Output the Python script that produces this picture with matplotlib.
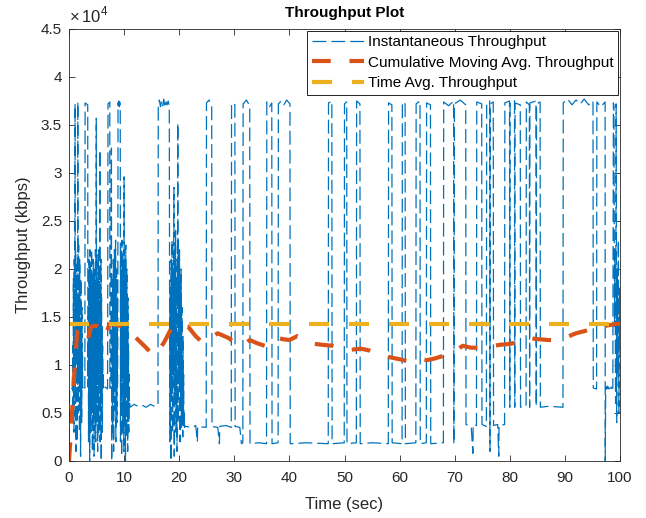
import numpy as np
import matplotlib.pyplot as plt
from matplotlib.ticker import FuncFormatter, MultipleLocator

plt.rcParams['font.family'] = ['Liberation Sans', 'DejaVu Sans']
plt.rcParams['mathtext.fontset'] = 'custom'
plt.rcParams['mathtext.rm'] = 'Liberation Sans'
plt.rcParams['lines.scale_dashes'] = False

# --- data (time in sec, throughput in kbps) ---

# stepped part of the instantaneous throughput: corner points (t, kbps)
inst_steps = [
    (0.0, 0), (0.1, 7400), (0.3, 7700), (0.6, 7500),
    (2.6, 7700), (2.88, 7600), (2.92, 37300), (3.4, 37100), (3.42, 7700),
    (6.3, 7600), (6.6, 7700), (7.0, 7500), (7.08, 37200), (7.4, 37400),
    (7.42, 7600), (7.6, 7600), (7.7, 32600), (7.75, 0),
    (11.1, 5600), (11.8, 5900), (12.5, 5700), (13.3, 5800), (14.0, 5600),
    (14.8, 5900), (15.5, 5700), (16.15, 5800), (16.2, 37000), (16.4, 37600),
    (16.6, 36900), (16.8, 37500), (17.0, 37000), (17.2, 37700), (17.4, 36800),
    (17.6, 37400), (17.8, 37100), (18.0, 37500), (18.2, 36900),
    (21.1, 3600), (22.5, 3500), (23.0, 3700), (23.3, 2000), (23.35, 3600),
    (24.9, 3500), (24.95, 37300), (25.4, 37600), (25.9, 37000), (25.95, 3600),
    (27.0, 3500), (27.3, 1800), (27.35, 3600), (28.5, 3700), (29.45, 3500),
    (29.5, 37300), (30.1, 37100), (30.15, 3600), (31.0, 3500), (31.3, 1800),
    (31.55, 1900), (31.6, 37200), (32.2, 37600), (32.8, 37000), (32.85, 1800),
    (34.5, 1900), (35.85, 1800), (35.9, 37400), (36.4, 36900), (36.8, 37300),
    (36.85, 1800), (37.95, 1900), (38.0, 37200), (38.5, 37500), (39.0, 37100),
    (39.5, 37600), (40.1, 37200), (40.15, 1800), (43.0, 1900), (47.05, 1800),
    (47.1, 37300), (47.7, 37500), (47.75, 1800), (49.95, 1900),
    (50.0, 37200), (50.4, 37400), (50.45, 1800), (52.15, 1900),
    (52.2, 37500), (52.8, 37200), (52.85, 1800), (55.0, 1900), (57.95, 1800),
    (58.0, 37300), (58.6, 37100), (58.65, 1900), (60.45, 1800),
    (60.5, 37400), (61.0, 37200), (61.05, 1800), (62.95, 1900),
    (63.0, 37200), (63.7, 37500), (63.75, 1800), (64.85, 1900),
    (64.9, 37300), (65.6, 37100), (65.65, 1800), (67.95, 1900),
    (68.0, 37400), (68.9, 37000), (69.8, 37500), (69.85, 1800), (69.95, 37200),
    (71.0, 37600), (72.0, 37100), (72.05, 3800), (73.0, 3600), (73.3, 800),
    (73.35, 3800), (73.95, 3700), (74.0, 37400), (74.9, 37200), (74.95, 3800),
    (75.75, 3600), (75.8, 37300), (76.35, 37500), (76.4, 1000), (76.45, 37200),
    (77.0, 37400), (77.05, 3700), (77.8, 3800), (78.0, 500), (78.05, 3700),
    (79.05, 3800), (79.1, 37300), (79.95, 37500), (80.0, 5600), (80.05, 37200),
    (80.85, 37600), (80.9, 5600), (80.95, 37300), (81.9, 37100), (81.95, 5600),
    (82.95, 5700), (83.0, 37400), (83.55, 37100), (83.6, 5600), (83.65, 37300),
    (84.75, 37500), (84.8, 5700), (84.85, 37200), (85.5, 37400), (85.55, 5600),
    (87.0, 5700), (89.65, 5600), (89.7, 37300), (90.5, 37700), (91.3, 37100),
    (92.0, 37600), (92.8, 37200), (93.5, 37700), (94.3, 37100), (95.1, 37500),
    (95.15, 7600), (95.75, 7500), (95.8, 37400), (96.5, 36900), (97.3, 37400),
    (97.32, 0),
]

# dense bursts: start time, sample spacing, samples
burst_starts = [0.7, 3.5, 7.8, 18.3, 97.4]
burst_steps = [0.05, 0.05, 0.05, 0.05, 0.1]
burst_a = [12000, 4000, 19000, 7600, 3000, 21000, 9000, 15000, 37200, 6000,
           22000, 1000, 18000, 11000, 20500, 2000, 16000, 8000, 37400, 13000,
           5000, 22500, 9500, 17000, 3000, 21000, 8000, 14000, 500, 19000,
           7600, 12000, 4000, 16000, 7600, 11000, 7500]
burst_b = [15000, 2000, 21000, 6000, 18000, 0, 22000, 9000, 17000, 3000,
           20000, 12000, 22000, 5000, 19000, 1000, 16000, 7600, 21000, 4000,
           13000, 500, 20000, 10000, 18000, 6000, 22000, 2000, 16000, 35700,
           4000, 21500, 8000, 19000, 1000, 17000, 9000, 22000, 3000, 20000,
           7000, 15000, 32400, 2000, 18000, 6000, 21000, 0, 17000, 8000,
           14000, 3000, 12000, 7600, 9000]
burst_c = [7600, 14000, 3000, 19000, 7700, 21000, 1000, 16000, 9000, 22000,
           5000, 18000, 7600, 23000, 2000, 15000, 10000, 20000, 4000, 17000,
           7600, 12000, 37300, 37000, 37500, 37100, 37600, 36900, 37400, 37200,
           37000, 2000, 22000, 6000, 20000, 500, 23000, 9000, 17000, 3000,
           21000, 12000, 19000, 1000, 29600, 8000, 21000, 4000, 18000, 0,
           22500, 7000, 16000, 2500, 20000, 9000, 14000, 1000, 17000, 5500,
           12000, 3000, 9000, 5800, 6000]
burst_d = [2000, 15000, 18000, 4000, 0, 21000, 9000, 7000, 23000, 12000,
           3000, 20000, 16000, 9000, 22000, 28500, 500, 19000, 22000, 6000,
           14000, 24000, 3000, 12000, 19000, 8000, 1000, 21000, 17000, 35200,
           4000, 23000, 18000, 10000, 8000, 22000, 13000, 2000, 19000, 15000,
           6000, 20000, 3500, 11000, 16000, 5000, 10000, 2500, 13000, 3700,
           9000, 3600, 5000, 3500, 3700]
burst_e = [7600, 7700, 7500, 7800, 7600, 7700, 7500, 7600, 7800, 7500,
           7700, 7600, 7600, 7600, 37300, 37000, 14000, 22000, 6000, 37200,
           4000, 20000, 9000, 23000, 5000, 18000, 12000]

# cumulative moving average
cma_t = [0, 0.5, 1.0, 1.5, 2.0, 2.8, 3.4, 4.0, 5.0, 6.0, 6.5, 7.4, 8.5, 9.8,
         11.0, 12.4, 14.0, 15.3, 16.2, 17.2, 18.2, 18.7, 20.0, 21.6, 23.0,
         24.3, 25.5, 27.0, 29.0, 30.5, 31.5, 32.8, 34.0, 35.5, 36.5, 37.5,
         38.7, 40.0, 41.4, 43.0, 44.6, 46.0, 48.0, 50.0, 51.3, 53.0, 54.6,
         56.5, 58.3, 60.0, 61.5, 63.0, 65.0, 66.5, 68.2, 70.0, 71.5, 73.0,
         75.0, 77.0, 78.2, 80.0, 81.7, 83.5, 85.0, 87.0, 88.7, 90.3, 92.0,
         94.0, 95.8, 97.5, 99.5, 100.0]
cma_v = [0, 4500, 9500, 13500, 13800, 13000, 12600, 14000, 14100, 13600,
         13000, 14300, 14200, 14000, 13400, 12700, 11800, 11000, 11500, 12300,
         13400, 14000, 14100, 14000, 13000, 12300, 12800, 13300, 12800, 12100,
         12000, 12600, 12300, 12000, 12600, 12900, 12700, 12600, 13000, 12600,
         12200, 12100, 12000, 11700, 11600, 11700, 11500, 11100, 10800, 10600,
         10400, 10700, 10500, 10700, 11000, 11500, 12000, 11800, 11800, 12000,
         12100, 12200, 12400, 12800, 12700, 12600, 12600, 12900, 13300, 13600,
         13900, 14100, 14300, 14300]

time_avg = 14300
t_end = 100

# --- assemble instantaneous series ---
t_parts = [np.array([p[0] for p in inst_steps])]
v_parts = [np.array([p[1] for p in inst_steps])]
bursts = [burst_a, burst_b, burst_c, burst_d, burst_e]
for start, step, vals in zip(burst_starts, burst_steps, bursts):
    t_parts.append(start + step * np.arange(len(vals)))
    v_parts.append(np.array(vals))
inst_t = np.concatenate(t_parts)
inst_v = np.concatenate(v_parts)
order = np.argsort(inst_t, kind='stable')
inst_t, inst_v = inst_t[order], inst_v[order]

# --- plot ---
fig = plt.figure(figsize=(6.46, 5.18), dpi=100)
ax = fig.add_axes([69 / 646, 1 - 461 / 518, 551 / 646, 432 / 518])

ax.plot(inst_t, inst_v, color='#0072BD', lw=0.9, dashes=(10, 3.6),
        label='Instantaneous Throughput')
ax.plot(cma_t, cma_v, color='#D95319', lw=3, dashes=(13.5, 13.5),
        dash_capstyle='butt', label='Cumulative Moving Avg. Throughput')
ax.plot([0, t_end], [time_avg, time_avg], color='#EDB120', lw=3,
        dashes=(14.4, 14.4), dash_capstyle='butt', label='Time Avg. Throughput')

ax.set_xlim(0, 100)
ax.set_ylim(0, 45000)
ax.xaxis.set_major_locator(MultipleLocator(10))
ax.yaxis.set_major_locator(MultipleLocator(5000))
ax.yaxis.set_major_formatter(FuncFormatter(lambda v, p: f'{v / 1e4:g}'))
ax.tick_params(direction='in', top=True, right=True, length=4, width=0.6,
               labelsize=11, colors='#262626', pad=5)
ax.tick_params(axis='x', pad=7)
for s in ax.spines.values():
    s.set_color('#262626')
    s.set_linewidth(0.6)

ax.text(0, 1.008, r'$\times\,10^{4}$', transform=ax.transAxes, ha='left',
        va='bottom', fontsize=12, color='#262626')
ax.set_title('Throughput Plot', fontsize=11, fontweight='bold', pad=9)
ax.set_xlabel('Time (sec)', fontsize=12, color='#262626', labelpad=9)
ax.set_ylabel('Throughput (kbps)', fontsize=12, color='#262626', labelpad=7)

leg = ax.legend(loc='upper right', fontsize=11, handlelength=3.4,
                handletextpad=0.3, borderpad=0.3, labelspacing=0.42,
                borderaxespad=0.1, fancybox=False, framealpha=1)
leg.get_frame().set_edgecolor('black')
leg.get_frame().set_linewidth(0.6)

fig.savefig('out.png', dpi=100)
